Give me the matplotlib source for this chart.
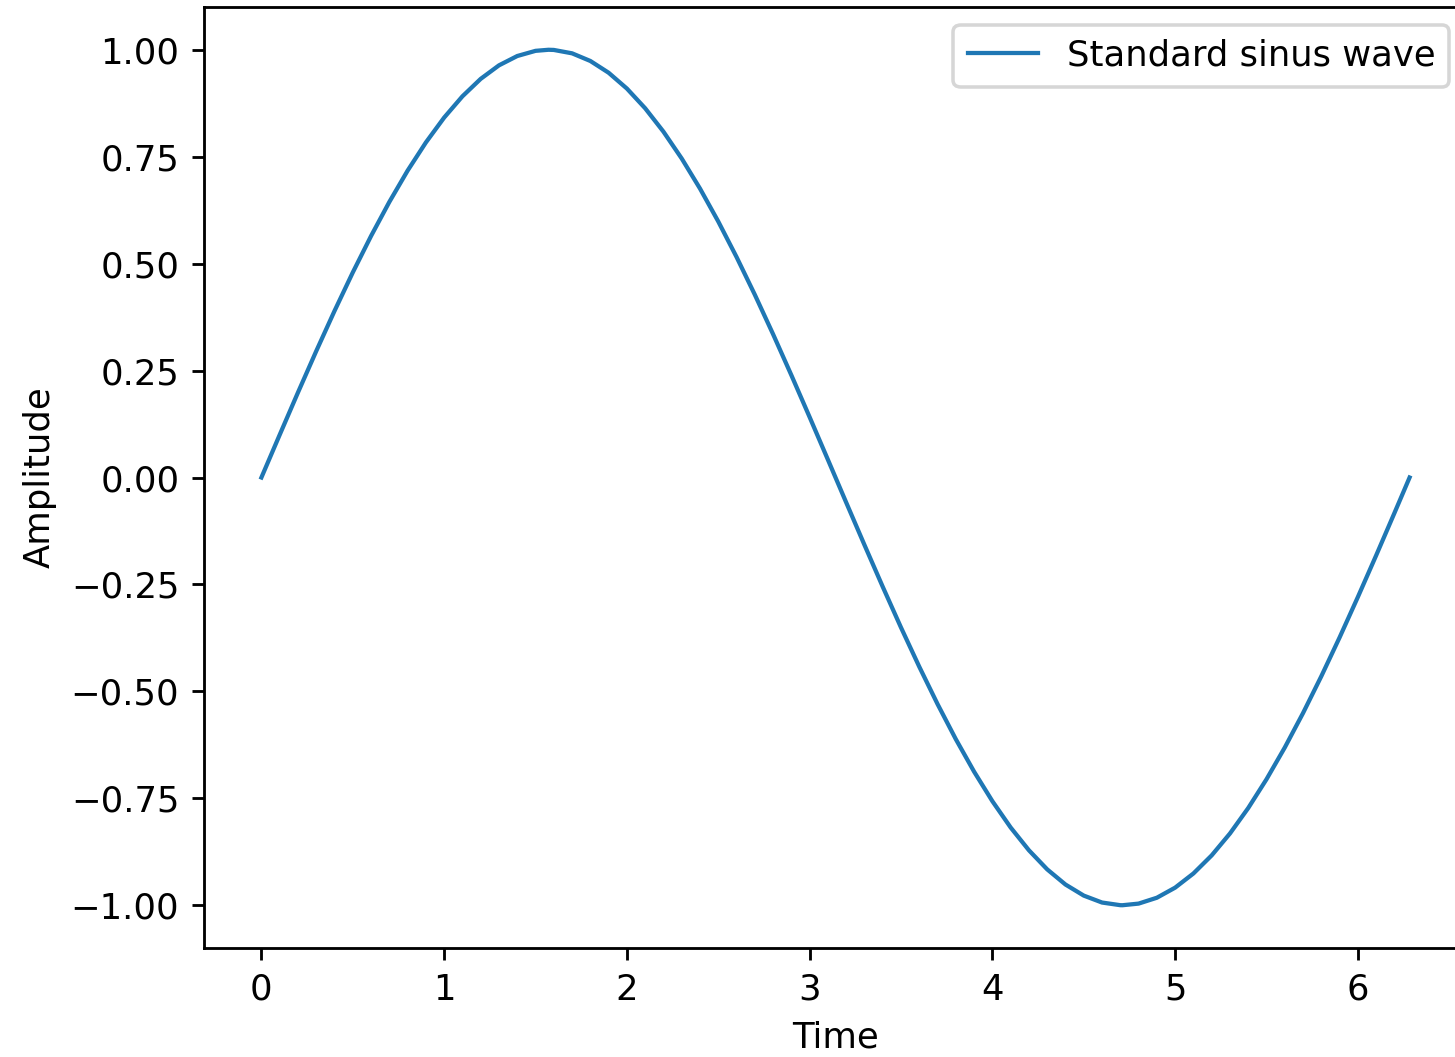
import matplotlib
matplotlib.use("Agg")
import matplotlib.pyplot as plt

# Values
time = [0.0, 0.1, 0.2, 0.3, 0.4, 0.5, 0.6, 0.7, 0.8, 0.9, 1.0, 1.1, 1.2, 1.3, 1.4,
        1.5, 1.571, 1.6, 1.7, 1.8, 1.9, 2.0, 2.1, 2.2, 2.3, 2.4, 2.5, 2.6, 2.7, 2.8, 2.9,
        3.0, 3.1, 3.2, 3.3, 3.4, 3.5, 3.6, 3.7, 3.8, 3.9, 4.0, 4.1, 4.2, 4.3, 4.4,
        4.5, 4.6, 4.7, 4.712, 4.8, 4.9, 5.0, 5.1, 5.2, 5.3, 5.4, 5.5, 5.6, 5.7, 5.8,
        5.9, 6.0, 6.1, 6.2, 6.283]
amplitude = [0.0, 0.0998, 0.1987, 0.2955, 0.3894, 0.4794, 0.5646, 0.6442, 0.7174,
             0.7833, 0.8415, 0.8912, 0.9320, 0.9636, 0.9854, 0.9975, 1.0, 0.9996,
             0.9917, 0.9738, 0.9463, 0.9093, 0.8632, 0.8085, 0.7457, 0.6755, 0.5985,
             0.5155, 0.4274, 0.3350, 0.2392, 0.1411, 0.0416, -0.0584, -0.1577,
             -0.2555, -0.3508, -0.4425, -0.5298, -0.6119, -0.6878, -0.7568, -0.8183,
             -0.8716, -0.9162, -0.9516, -0.9775, -0.9937, -0.9999, -1.0, -0.9962,
             -0.9825, -0.9589, -0.9258, -0.8835, -0.8323, -0.7728, -0.7055, -0.6313,
             -0.5507, -0.4646, -0.3739, -0.2794, -0.1822, -0.0831, 0.0]
series_label = "Standard sinus wave"

DPI = 254.5
fig = plt.figure(figsize=(1455 / DPI, 1057 / DPI), dpi=DPI)
ax = fig.add_axes([204 / 1455, 109 / 1057, (1467 - 204) / 1455, (949 - 8) / 1057])
ax.plot(time, amplitude, color="#1f77b4", linewidth=1.2, label=series_label)
ax.set_xlabel("Time")
ax.set_ylabel("Amplitude")
ax.set_yticks([-1.0, -0.75, -0.5, -0.25, 0.0, 0.25, 0.5, 0.75, 1.0])
ax.spines["right"].set_visible(False)
ax.legend(loc="upper right")
fig.savefig("out.png", dpi=DPI)
